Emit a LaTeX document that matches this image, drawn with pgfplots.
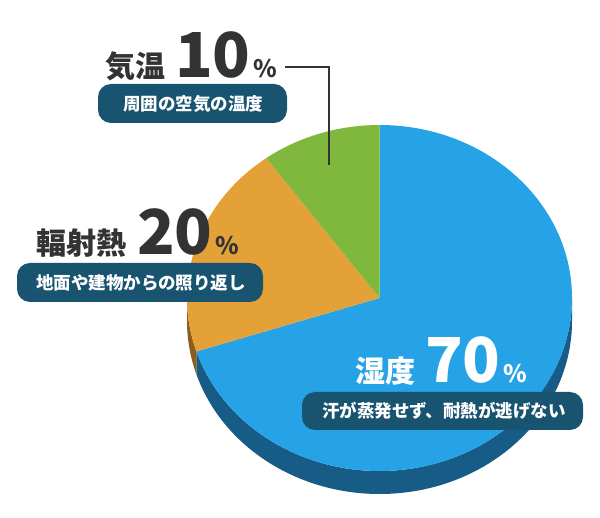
\documentclass[border=0pt]{standalone}
\usepackage{pgfplots}
\usepackage{pgfplotstable}
\pgfplotsset{compat=1.18}
\usepackage{fontspec}
\setmainfont{Noto Sans CJK JP}

\definecolor{humid}{HTML}{26A2E7}
\definecolor{humidside}{HTML}{165C86}
\definecolor{rad}{HTML}{E4A138}
\definecolor{radside}{HTML}{8C5E1E}
\definecolor{air}{HTML}{80B73D}
\definecolor{boxc}{HTML}{18536F}
\definecolor{ink}{HTML}{333333}

% shares in percent, clockwise from 12 o'clock
\pgfplotstableread{
key   value
humid 70
rad   20
air   10
}\piedata

\begin{document}
\begin{tikzpicture}
\pgfplotstablegetelem{0}{value}\of\piedata \pgfmathsetmacro\vA{\pgfplotsretval}
\pgfplotstablegetelem{1}{value}\of\piedata \pgfmathsetmacro\vB{\pgfplotsretval}
\pgfplotstablegetelem{2}{value}\of\piedata \pgfmathsetmacro\vC{\pgfplotsretval}
% ellipse centre, radii and rim depth (axis units = pt)
\def\cx{379.5}\def\cy{219}\def\rx{192.5}\def\ry{173}\def\dep{23}
\pgfmathsetmacro\aO{90}
\pgfmathsetmacro\aA{\aO-3.6*\vA}
\pgfmathsetmacro\aB{\aA-3.6*\vB}
\pgfmathsetmacro\aC{\aB-3.6*\vC}
\pgfmathsetmacro\pOx{\cx+\rx*cos(\aO)}\pgfmathsetmacro\pOy{\cy+\ry*sin(\aO)}
\pgfmathsetmacro\pAx{\cx+\rx*cos(\aA)}\pgfmathsetmacro\pAy{\cy+\ry*sin(\aA)}
\pgfmathsetmacro\pBx{\cx+\rx*cos(\aB)}\pgfmathsetmacro\pBy{\cy+\ry*sin(\aB)}
\pgfmathsetmacro\pLx{\cx-\rx}
\begin{axis}[x=1pt,y=1pt,xmin=0,xmax=600,ymin=0,ymax=517,
    hide axis,clip=false,scale only axis]
\path (axis cs:0,0) rectangle (axis cs:600,517);
% rim
\fill[humidside] (axis cs:\pAx,\pAy)
    arc[start angle=\aA,end angle=0,x radius=\rx pt,y radius=\ry pt]
    -- ++(0,-\dep pt)
    arc[start angle=0,end angle=\aA,x radius=\rx pt,y radius=\ry pt] -- cycle;
\fill[radside] (axis cs:\pLx,\cy)
    arc[start angle=-180,end angle=\aA,x radius=\rx pt,y radius=\ry pt]
    -- ++(0,-\dep pt)
    arc[start angle=\aA,end angle=-180,x radius=\rx pt,y radius=\ry pt] -- cycle;
% top faces
\fill[humid] (axis cs:\cx,\cy) -- (axis cs:\pOx,\pOy)
    arc[start angle=\aO,end angle=\aA,x radius=\rx pt,y radius=\ry pt] -- cycle;
\fill[rad] (axis cs:\cx,\cy) -- (axis cs:\pAx,\pAy)
    arc[start angle=\aA,end angle=\aB,x radius=\rx pt,y radius=\ry pt] -- cycle;
\fill[air] (axis cs:\cx,\cy) -- (axis cs:\pBx,\pBy)
    arc[start angle=\aB,end angle=\aC,x radius=\rx pt,y radius=\ry pt] -- cycle;

% leader line
\draw[ink,line width=2.6pt] (axis cs:285,450) -- (axis cs:329,450) -- (axis cs:329,352);

% labels
\tikzset{big/.style={inner sep=0,anchor=base west,font=\fontsize{30}{30}\selectfont\bfseries},
  num/.style={inner sep=0,anchor=base west,font=\fontsize{62}{62}\selectfont\bfseries},
  pct/.style={inner sep=0,anchor=base west,font=\fontsize{24}{24}\selectfont\bfseries},
  sub/.style={inner sep=0,text=white,font=\fontsize{17.5}{17.5}\selectfont\bfseries}}

\node[big,text=ink] at (axis cs:105,439) {気温};
\node[num,text=ink] at (axis cs:175,439) {10};
\node[pct,text=ink] at (axis cs:253,439) {\%};
\fill[boxc,rounded corners=13pt] (axis cs:98,394) rectangle (axis cs:287,433);
\node[sub] at (axis cs:193,413.5) {周囲の空気の温度};

\node[big,text=ink] at (axis cs:36,262) {輻射熱};
\node[num,text=ink] at (axis cs:137,262) {20};
\node[pct,text=ink] at (axis cs:215,262) {\%};
\fill[boxc,rounded corners=13pt] (axis cs:17,215) rectangle (axis cs:263,254);
\node[sub] at (axis cs:141,234.5) {地面や建物からの照り返し};

\node[big,text=white] at (axis cs:355,134) {湿度};
\node[num,text=white] at (axis cs:425,134) {70};
\node[pct,text=white] at (axis cs:503,134) {\%};
\fill[boxc,rounded corners=13pt] (axis cs:302,87) rectangle (axis cs:583,125);
\node[sub] at (axis cs:444,106) {汗が蒸発せず、耐熱が逃げない};
\end{axis}
\end{tikzpicture}
\end{document}
